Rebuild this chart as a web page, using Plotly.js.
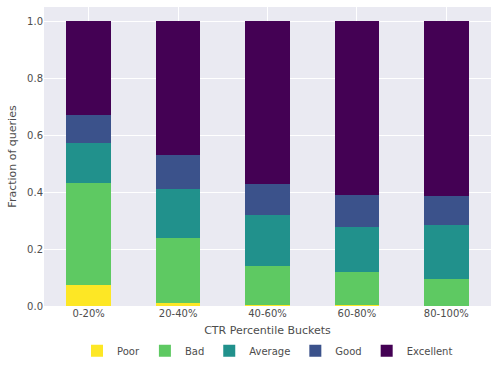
<!DOCTYPE html>
<html>
<head>
<meta charset="utf-8">
<script src="https://cdn.plot.ly/plotly-3.0.1.min.js"></script>
<style>
  body { margin: 0; background: #fff; }
  #chart { width: 497px; height: 368px; }
</style>
</head>
<body>
<div id="chart"></div>
<script>
// CTR percentile buckets
const buckets = ['0-20%', '20-40%', '40-60%', '60-80%', '80-100%'];

// fraction of queries per quality label (stacked)
const poor      = [0.074, 0.011, 0.003, 0.003, 0.000];
const bad       = [0.358, 0.228, 0.138, 0.116, 0.095];
const average   = [0.141, 0.172, 0.179, 0.158, 0.189];
const good      = [0.098, 0.119, 0.109, 0.113, 0.102];
const excellent = [0.329, 0.470, 0.571, 0.610, 0.614];

const series_names = ['Poor', 'Bad', 'Average', 'Good', 'Excellent'];
const series_vals = [poor, bad, average, good, excellent];
const colors = ['#fde725', '#5ec962', '#21918c', '#3b528b', '#440154'];

let traces = new Array();
for (let i = 0; i < series_names.length; i++) {
  traces.push({
    type: 'bar',
    x: buckets,
    y: series_vals[i],
    name: series_names[i],
    marker: { color: colors[i], line: { width: 0 } },
    hoverinfo: 'skip'
  });
}

const font_color = '#4d4d4d';

let layout = {
  width: 497,
  height: 368,
  barmode: 'stack',
  bargap: 0.5,
  paper_bgcolor: '#ffffff',
  plot_bgcolor: '#eaeaf2',
  margin: { l: 44, r: 6, t: 7, b: 62, autoexpand: false },
  font: { family: 'DejaVu Sans, sans-serif', size: 10, color: font_color },
  xaxis: {
    showgrid: true,
    gridcolor: '#ffffff',
    gridwidth: 1,
    ticks: '',
    ticklen: 0,
    zeroline: false,
    showline: false,
    automargin: false,
    tickfont: { size: 10, color: font_color },
    title: { text: 'CTR Percentile Buckets', font: { size: 11, color: font_color }, standoff: 8 }
  },
  yaxis: {
    range: [0, 1.05],
    tickvals: [0, 0.2, 0.4, 0.6, 0.8, 1.0],
    tickformat: '.1f',
    showgrid: true,
    gridcolor: '#ffffff',
    gridwidth: 1,
    zeroline: false,
    showline: false,
    automargin: false,
    ticks: '',
    tickfont: { size: 10, color: font_color },
    title: { text: 'Fraction of queries', font: { size: 11, color: font_color }, standoff: 8 }
  },
  legend: {
    orientation: 'h',
    x: 0.5,
    xanchor: 'center',
    y: -0.15,
    yanchor: 'middle',
    traceorder: 'normal',
    font: { size: 10, color: font_color },
    bgcolor: 'rgba(0,0,0,0)'
  },
  showlegend: true
};

Plotly.newPlot('chart', traces, layout, { displayModeBar: false, staticPlot: true });
</script>
</body>
</html>
